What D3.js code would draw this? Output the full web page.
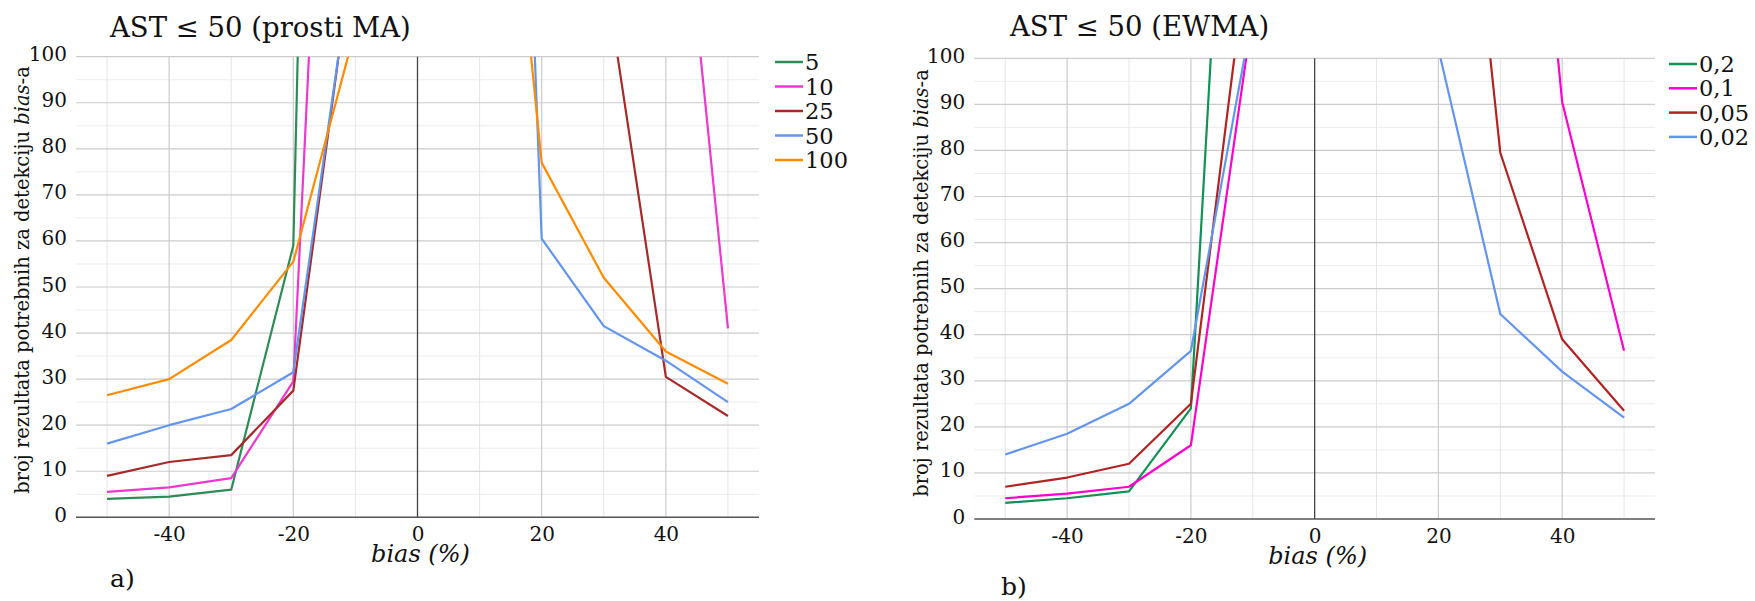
<!DOCTYPE html>
<html>
<head>
<meta charset="utf-8">
<script src="https://cdn.jsdelivr.net/npm/d3@7/dist/d3.min.js"></script>
<style>
  body { margin: 0; background: #fff; }
</style>
</head>
<body>
<svg id="chart" width="1755" height="601"></svg>
<script>
// bias (%) values shared by both panels
const biasValues = [-50, -40, -30, -20, -10, 10, 20, 30, 40, 50];
const xTicks = [-40, -20, 0, 20, 40];
const yTicks = [0, 10, 20, 30, 40, 50, 60, 70, 80, 90, 100];

// panel a) simple moving average, window N
const maNames = ['5', '10', '25', '50', '100'];
const ma5   = [4,   4.5, 6,    59,   640, null, null, null, null, null];
const ma10  = [5.5, 6.5, 8.5,  29.5, 310, null, null, null, 175,  41];
const ma25  = [9,   12,  13.5, 27.5, 127, null, null, 120,  30.5, 22];
const ma50  = [16,  20,  23.5, 31.5, 126, 420,  60.5, 41.5, 34,   25];
const ma100 = [26.5, 30, 38.5, 55.5, 106, 212,  77,   52,   36,   29];

// panel b) EWMA, lambda
const ewNames = ['0,2', '0,1', '0,05', '0,02'];
const ew02  = [3.5, 4.5, 6,  24,   261, null, null, null, null, null];
const ew01  = [4.5, 5.5, 7,  16,   110, null, null, 230,  90.5, 36.5];
const ew005 = [7,   9,   12, 25,   132, null, 207,  79.5, 39,   23.5];
const ew002 = [14,  18.5, 25, 36.5, 110, null, 102, 44.5, 32,   22];

// only serif face that resolves here
const FONT = 'DejaVu Serif';
const svg = d3.select('#chart').attr('font-family', FONT).attr('fill', '#111');

function drawPanel(opts) {
  const { left, right, top, bottom, title, titleX, titleY, names, series, colors,
          legendX, legendY, legendStep, yLabelX, yLabelY, letter, letterX, letterY, id } = opts;

  const x = d3.scaleLinear().domain([-55, 55]).range([left, right]);
  const y = d3.scaleLinear().domain([0, 100]).range([bottom, top]);

  const g = svg.append('g');

  // minor grid
  g.append('g').selectAll('line')
    .data(d3.range(5, 100, 10))
    .enter().append('line')
    .attr('x1', left).attr('x2', right)
    .attr('y1', d => y(d)).attr('y2', d => y(d))
    .attr('stroke', '#ececec').attr('stroke-width', 1);
  g.append('g').selectAll('line')
    .data([-50, -30, -10, 10, 30, 50])
    .enter().append('line')
    .attr('x1', d => x(d)).attr('x2', d => x(d))
    .attr('y1', top).attr('y2', bottom)
    .attr('stroke', '#e6e6e6').attr('stroke-width', 1);

  // major grid
  g.append('g').selectAll('line')
    .data(yTicks.filter(d => d > 0))
    .enter().append('line')
    .attr('x1', left).attr('x2', right)
    .attr('y1', d => y(d)).attr('y2', d => y(d))
    .attr('stroke', '#cccccc').attr('stroke-width', 1.2);
  g.append('g').selectAll('line')
    .data([-40, -20, 20, 40])
    .enter().append('line')
    .attr('x1', d => x(d)).attr('x2', d => x(d))
    .attr('y1', top).attr('y2', bottom)
    .attr('stroke', '#cccccc').attr('stroke-width', 1.2);

  // zero lines
  g.append('line')
    .attr('x1', x(0)).attr('x2', x(0)).attr('y1', top).attr('y2', bottom)
    .attr('stroke', '#444').attr('stroke-width', 1.3);
  g.append('line')
    .attr('x1', left).attr('x2', right).attr('y1', y(0)).attr('y2', y(0))
    .attr('stroke', '#555').attr('stroke-width', 1.5);

  // tick labels
  const xAxis = d3.axisBottom(x).tickValues(xTicks).tickSize(0).tickPadding(10)
    .tickFormat(d => String(d));
  g.append('g')
    .attr('transform', `translate(0, ${y(0)})`)
    .call(xAxis)
    .attr('font-family', FONT).attr('font-size', 20)
    .call(s => s.select('.domain').remove())
    .selectAll('text')
    .attr('fill', '#111');

  const yAxis = d3.axisLeft(y).tickValues(yTicks).tickSize(0).tickPadding(9);
  g.append('g')
    .attr('transform', `translate(${left}, 0)`)
    .call(yAxis)
    .attr('font-family', FONT).attr('font-size', 20)
    .call(s => s.select('.domain').remove())
    .selectAll('text')
    .attr('fill', '#111')
    .attr('dy', '0.2em');

  // lines
  g.append('clipPath').attr('id', 'clip' + id)
    .append('rect').attr('x', left).attr('y', top)
    .attr('width', right - left).attr('height', bottom - top);

  const line = d3.line()
    .defined(d => d.v != null)
    .x(d => x(d.b)).y(d => y(d.v));

  const lines = g.append('g').attr('clip-path', `url(#clip${id})`);
  series.forEach((vals, i) => {
    lines.append('path')
      .datum(biasValues.map((b, j) => ({ b: b, v: vals[j] })))
      .attr('fill', 'none')
      .attr('stroke', colors[i])
      .attr('stroke-width', 2.2)
      .attr('stroke-linejoin', 'round')
      .attr('d', line);
  });

  // title
  g.append('text')
    .attr('x', titleX).attr('y', titleY)
    .attr('font-size', 27.5)
    .text(title);

  // y label
  const yl = g.append('text')
    .attr('transform', `translate(${yLabelX}, ${yLabelY}) rotate(-90)`)
    .attr('text-anchor', 'middle')
    .attr('font-size', 19.5);
  yl.append('tspan').text('broj rezultata potrebnih za detekciju ');
  yl.append('tspan').attr('font-style', 'italic').text('bias');
  yl.append('tspan').text('-a');

  // x label
  g.append('text')
    .attr('x', x(0) + 3).attr('y', bottom + 45)
    .attr('text-anchor', 'middle')
    .attr('font-size', 24).attr('font-style', 'italic')
    .text('bias (%)');

  // panel letter
  g.append('text')
    .attr('x', letterX).attr('y', letterY)
    .attr('font-size', 25)
    .text(letter);

  // legend
  const leg = g.append('g').attr('transform', `translate(${legendX}, ${legendY})`);
  names.forEach((n, i) => {
    const row = leg.append('g').attr('transform', `translate(0, ${i * legendStep})`);
    row.append('line')
      .attr('x1', 0).attr('x2', 28).attr('y1', 0).attr('y2', 0)
      .attr('stroke', colors[i]).attr('stroke-width', 2.5);
    row.append('text')
      .attr('x', 30).attr('y', 8)
      .attr('font-size', 22.5)
      .text(n);
  });
}

drawPanel({
  id: 'a', left: 76, right: 759, top: 56.7, bottom: 517.3,
  title: 'AST \u2264 50 (prosti MA)', titleX: 110, titleY: 37,
  names: maNames, series: [ma5, ma10, ma25, ma50, ma100],
  colors: ['#2e8b57', '#ec38cf', '#a52a2a', '#6495ed', '#ff8c00'],
  legendX: 775, legendY: 62, legendStep: 24.5, yLabelX: 29, yLabelY: 280,
  letter: 'a)', letterX: 110, letterY: 587
});

drawPanel({
  id: 'b', left: 974.3, right: 1655, top: 58.3, bottom: 519,
  title: 'AST \u2264 50 (EWMA)', titleX: 1010, titleY: 36,
  names: ewNames, series: [ew02, ew01, ew005, ew002],
  colors: ['#119154', '#ff00cc', '#b22222', '#6495ed'],
  legendX: 1669, legendY: 64, legendStep: 24.3, yLabelX: 928, yLabelY: 283,
  letter: 'b)', letterX: 1001, letterY: 595
});
</script>
</body>
</html>
